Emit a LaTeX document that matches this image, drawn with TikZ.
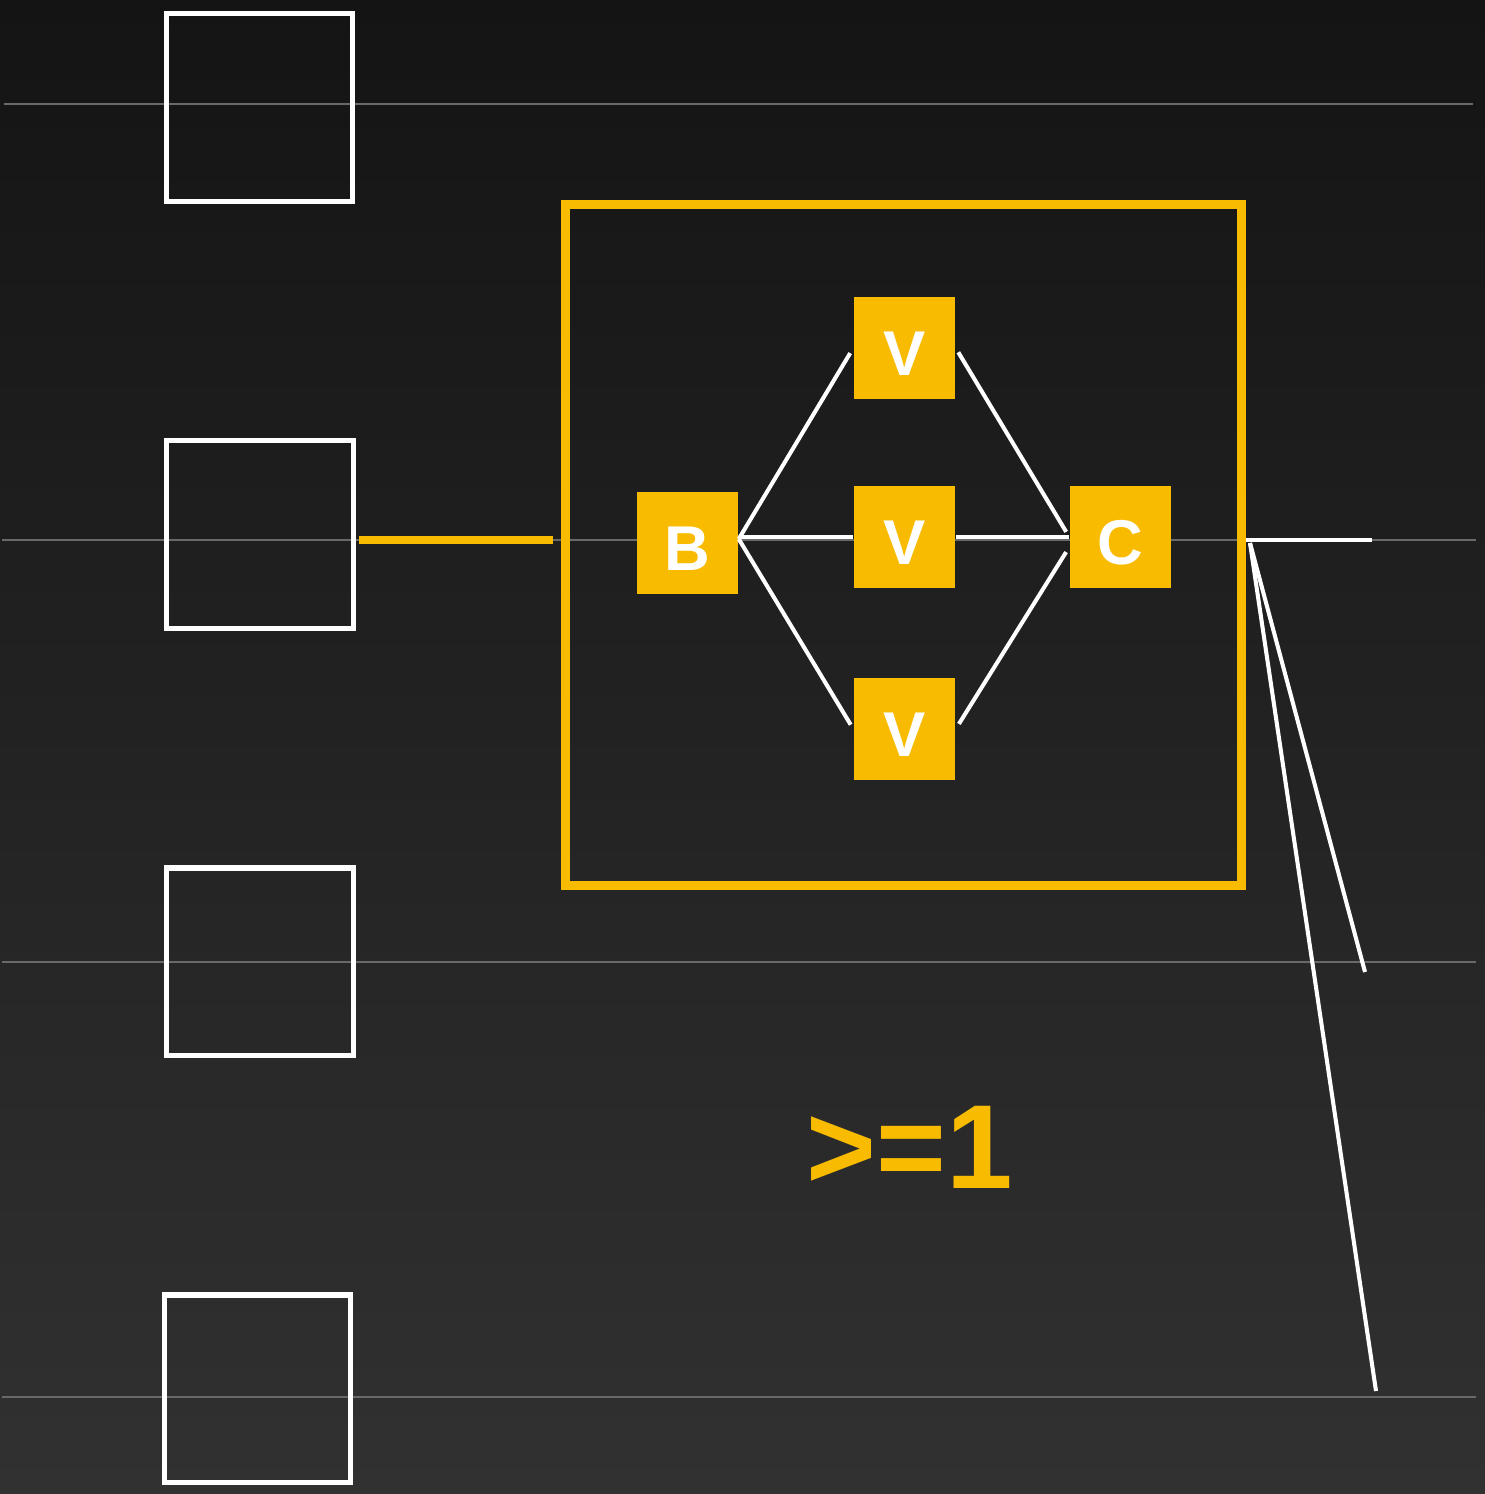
\documentclass[tikz,border=0pt]{standalone}
\usepackage{fontspec}
\setmainfont{Liberation Sans}
\begin{document}
\definecolor{amber}{RGB}{248,187,0}
\definecolor{bgtop}{RGB}{20,20,20}
\definecolor{bgbot}{RGB}{49,49,49}
\definecolor{rule}{RGB}{105,105,105}
\begin{tikzpicture}[x=0.01cm,y=-0.01cm,
  slot/.style={draw=white,line width=1.45pt,fill=none,minimum width=1.86cm,minimum height=1.87cm,inner sep=0pt},
  tile/.style={fill=amber,text=white,minimum size=1.01cm,inner sep=0pt,text height=15.6pt,text depth=0pt,font=\bfseries\fontsize{18}{18}\selectfont},
  frame/.style={draw=amber,line width=2.6pt,minimum width=6.75cm,minimum height=6.8cm,inner sep=0pt},
  wire/.style={white,line width=1.15pt},
  guide/.style={rule,line width=0.75pt}]
  % background
  \shade[top color=bgtop,bottom color=bgbot] (0,0) rectangle (1485,1494);
  \useasboundingbox (0,0) rectangle (1485,1494);
  % horizontal guides
  \draw[guide] (4,104) -- (1473,104);
  \draw[guide] (2,540) -- (1476,540);
  \draw[guide] (2,962) -- (1476,962);
  \draw[guide] (2,1397) -- (1476,1397);
  % empty slots on the left
  \node[slot] (s1) at (259.5,107.5) {};
  \node[slot] (s2) at (260,534.5) {};
  \node[slot] (s3) at (260,961.5) {};
  \node[slot] (s4) at (257.5,1388.5) {};
  % grouping frame
  \node[frame] (grp) at (903.5,545) {};
  % tiles
  \node[tile] (b) at (687.5,543) {B};
  \node[tile] (vt) at (904.5,348) {V};
  \node[tile] (vm) at (904.5,537) {V};
  \node[tile] (vb) at (904.5,729) {V};
  \node[tile] (c) at (1120.5,537) {C};
  % link from slot to frame
  \draw[amber,line width=2pt,shorten <=1pt,shorten >=2.4pt] (s2.east |- 0,540) -- (grp.west |- 0,540);
  % inner wiring
  \draw[wire,shorten >=6pt*0.2845] (b.east |- 0,539) -- (vt.west);
  \draw[wire] (b.east |- vm.west) -- (vm.west);
  \draw[wire,shorten >=5pt*0.2845] (b.east |- 0,539) -- (vb.west);
  \draw[wire,shorten <=5pt*0.2845,shorten >=6pt*0.2845] (vt.east) -- (c.west);
  \draw[wire] (vm.east) -- (c.west);
  \draw[wire,shorten <=6pt*0.2845,shorten >=6pt*0.2845] (vb.east) -- (c.west |- 0,547);
  % outgoing fan
  \coordinate (fan) at (1250,543);
  \coordinate (o1) at (1372,540);
  \coordinate (o2) at (1365,972);
  \coordinate (o3) at (1376,1391);
  \draw[wire] (grp.east |- 0,540) -- (o1);
  \draw[wire] (fan) -- (o2);
  \draw[wire] (fan) -- (o3);
  % label
  \node[text=amber,font=\bfseries\fontsize{34}{34}\selectfont,inner sep=0pt] (cnt) at (910,1147) {>=1};
\end{tikzpicture}
\end{document}
